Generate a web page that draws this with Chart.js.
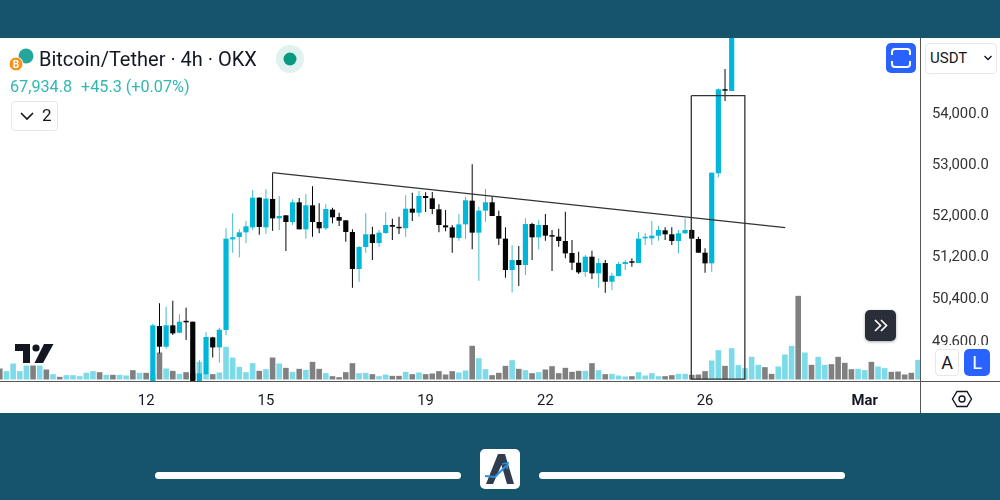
<!DOCTYPE html>
<html>
<head>
<meta charset="utf-8">
<title>Bitcoin/Tether</title>
<script src="https://cdn.jsdelivr.net/npm/chart.js@4/dist/chart.umd.min.js"></script>
<style>
    html, body { margin: 0; padding: 0; width: 1000px; height: 500px; overflow: hidden; background: #16546c; font-family: Roboto, sans-serif; color: #131722; }
    .abs { position: absolute; box-sizing: border-box; }
    #panel { left: 0; top: 38px; width: 1000px; height: 375px; background: #fff; }
    #chart { position: absolute; left: 0; top: 38px; }
    .lineH { left: 0; top: 381px; width: 1000px; height: 1px; background: #555; }
    .lineV { left: 920px; top: 38px; width: 1px; height: 375px; background: #555; }
    .box { border: 1px solid #e6e7ea; border-radius: 4px; background: #fff; }
    .blue { background: #2962ff; color: #fff; border-radius: 5px; }
    .pill { left: 155px; top: 472px; width: 306px; height: 7px; background: #fff; border-radius: 4px; }
</style>
</head>
<body>
<div class="abs" id="panel"></div>
<canvas id="chart" width="1000" height="375"></canvas>
<div class="abs lineH"></div>
<div class="abs lineV"></div>

<!-- header -->
<svg class="abs" style="left:7px;top:47px" width="28" height="26" viewBox="0 0 28 26">
    <circle cx="19" cy="9" r="7.5" fill="#26a69a"/>
    <circle cx="9" cy="17" r="7" fill="#f7931a" stroke="#fff" stroke-width="1"/>
    <text x="9" y="21" font-size="10" font-weight="bold" fill="#fff" text-anchor="middle">B</text>
</svg>
<div class="abs" style="left:39px;top:47px;font-size:20px;line-height:24px;white-space:nowrap">Bitcoin/Tether · 4h · OKX</div>
<svg class="abs" style="left:276px;top:45px" width="28" height="28"><circle cx="14" cy="14" r="14" fill="#e0f2ef"/><circle cx="14" cy="14" r="6.5" fill="#089981"/></svg>
<div class="abs" style="left:10px;top:77px;font-size:16.2px;line-height:19px;color:#2fb8b0;white-space:nowrap">67,934.8</div>
<div class="abs" style="left:81px;top:77px;font-size:16.2px;line-height:19px;color:#2fb8b0;white-space:nowrap">+45.3 (+0.07%)</div>
<div class="abs box" style="left:11px;top:101px;width:47px;height:30px"></div>
<svg class="abs" style="left:19px;top:110px" width="16" height="12"><path d="M2 3 L8 9 L14 3" fill="none" stroke="#131722" stroke-width="1.6"/></svg>
<div class="abs" style="left:42px;top:105px;font-size:17px;line-height:21px">2</div>

<!-- fullscreen button -->
<div class="abs blue" style="left:886px;top:43px;width:30px;height:30px"></div>
<svg class="abs" style="left:886px;top:43px" width="30" height="30"><path d="M6 12 V9 Q6 6 9 6 H21 Q24 6 24 9 V12 M6 18 V21 Q6 24 9 24 H21 Q24 24 24 21 V18" fill="none" stroke="#fff" stroke-width="2"/></svg>

<!-- price scale extras -->
<div class="abs box" style="left:925px;top:43px;width:72px;height:31px"></div>
<div class="abs" style="left:930px;top:49px;font-size:15px;line-height:18px">USDT</div>
<svg class="abs" style="left:983px;top:54px" width="10" height="8"><path d="M1.5 2 L5 5.5 L8.5 2" fill="none" stroke="#131722" stroke-width="1.4"/></svg>
<div class="abs" style="left:921px;top:345px;width:79px;height:36px;background:#fff"></div>
<div class="abs box" style="left:935px;top:349px;width:24px;height:27px;font-size:18px;line-height:26px;text-align:center">A</div>
<div class="abs blue" style="left:964px;top:349px;width:26px;height:27px;font-size:18px;line-height:27px;text-align:center">L</div>
<svg class="abs" style="left:951px;top:389px" width="22" height="20"><path d="M6 2.5 H16 L20.5 10 L16 17.5 H6 L1.5 10 Z" fill="none" stroke="#131722" stroke-width="1.4"/><circle cx="11" cy="10" r="3" fill="none" stroke="#131722" stroke-width="1.4"/></svg>

<!-- tradingview logo, scroll button -->
<svg class="abs" style="left:15px;top:344px" width="39" height="19" viewBox="0 0 39 19">
    <path d="M0 0 H15 V19 H8 V7 H0 Z" fill="#131722"/>
    <circle cx="21" cy="4" r="3.6" fill="#131722"/>
    <path d="M29 0 H38.5 L28 19 H19.5 Z" fill="#131722"/>
</svg>
<div class="abs" style="left:865px;top:310px;width:31px;height:31px;background:#2a2e39;border-radius:5px;box-shadow:0 1px 3px rgba(0,0,0,.35)"></div>
<svg class="abs" style="left:865px;top:310px" width="31" height="31"><path d="M10 10 L15.5 15.5 L10 21 M16 10 L21.5 15.5 L16 21" fill="none" stroke="#fff" stroke-width="1.7"/></svg>

<!-- footer band -->
<div class="abs pill"></div>
<div class="abs pill" style="left:539px"></div>
<div class="abs" style="left:480px;top:449px;width:40px;height:40px;background:#fff;border-radius:5px"></div>
<svg class="abs" style="left:480px;top:449px" width="40" height="40" viewBox="0 0 40 40">
    <path d="M6 35 L18 5 H25 L34 35 H27 L21.5 16 L13 35 Z" fill="#2f3d4f"/>
    <path d="M5 27 L15 28 L27 16" fill="none" stroke="#2a8fe0" stroke-width="2"/>
    <path d="M22 15 L28 14 L27 20" fill="none" stroke="#2a8fe0" stroke-width="1.6"/>
</svg>

<script>
// Bars are counted from the left edge, one bar every 4 hours
const firstCandle = 23;

const opens = [
    48600, 49869, 49486, 49882, 49745, 49956, 49950, 48600, 48983, 49659, 49473, 49795,
    51508, 51553, 51643, 51739, 52315, 51739, 52290, 51913, 51972, 51842, 52225, 51701,
    52166, 51842, 51721, 52082, 51939, 51875, 51650, 50941, 51361, 51605, 51438, 51630,
    51784, 51739, 51721, 52101, 52023, 52348, 52303, 52088, 51778, 51739, 51534, 51797,
    52257, 51637, 52062, 52225, 51959, 51522, 50922, 51112, 51017, 51803, 51547, 51784,
    51579, 51560, 51476, 51246, 51061, 50884, 51176, 50859, 51055, 50700, 50808, 51036,
    51080, 51055, 51528, 51528, 51579, 51682, 51605, 51476, 51624, 51688, 51515, 51252,
    51049, 52793, 54459, 54439
];
const highs = [
    49913, 50293, 50230, 50342, 50087, 50212, 49950, 49240, 49752, 49671, 49838, 51721,
    52010, 51701, 51862, 52465, 52322, 52478, 52792, 52348, 51972, 52283, 52309, 52387,
    52537, 52205, 52186, 52120, 52023, 51881, 51701, 51387, 52010, 51752, 51688, 52030,
    51907, 51946, 52361, 52413, 52452, 52420, 52426, 52186, 52075, 51784, 51997, 52335,
    52970, 52140, 52485, 52335, 52062, 51739, 51393, 51380, 51913, 51829, 51881, 51997,
    51688, 51714, 52043, 51495, 51271, 51208, 51290, 51144, 51112, 50871, 51080, 51112,
    51144, 51643, 51624, 51862, 51765, 51739, 51739, 51688, 51913, 51707, 51560, 51335,
    52806, 54494, 54887, 56300
];
const lows = [
    48600, 49363, 49455, 49702, 49733, 49609, 48600, 48600, 48965, 49288, 49191, 49696,
    51252, 51163, 51431, 51688, 51598, 51611, 51675, 51688, 51284, 51784, 51701, 51522,
    51560, 51624, 51688, 51816, 51765, 51463, 50587, 50700, 51252, 51112, 51367, 51611,
    51495, 51611, 51560, 51862, 51946, 52036, 51991, 51643, 51662, 51252, 51482, 51522,
    51316, 50719, 51849, 51959, 51399, 50776, 50499, 50619, 50827, 51112, 51316, 51482,
    50903, 51367, 51144, 50922, 50846, 50795, 50751, 50593, 50493, 50543, 50795, 50922,
    50985, 51055, 51399, 51399, 51482, 51495, 51399, 51239, 51611, 51522, 51252, 50871,
    50890, 52714, 54236, 54439
];
const closes = [
    49882, 49486, 49882, 49733, 49950, 49938, 48600, 48996, 49665, 49473, 49801, 51522,
    51547, 51643, 51759, 52315, 51746, 52296, 51913, 51959, 51842, 52225, 51701, 52166,
    51842, 51721, 52095, 51933, 51868, 51650, 50941, 51361, 51605, 51438, 51637, 51784,
    51752, 51721, 52101, 52023, 52348, 52309, 52095, 51784, 51739, 51541, 51797, 52264,
    51637, 52062, 52225, 51959, 51522, 50922, 51112, 51017, 51803, 51547, 51784, 51579,
    51560, 51476, 51239, 51061, 50878, 51176, 50859, 51055, 50700, 50814, 51036, 51074,
    51061, 51522, 51547, 51579, 51688, 51605, 51476, 51624, 51688, 51522, 51252, 51049,
    52806, 54473, 54445, 56200
];

const volumes = [
    33, 25, 48, 25, 42, 42, 42, 30, 16, 8,
    13, 13, 10, 20, 25, 22, 14, 14, 14, 12,
    28, 20, 20, 15, 81, 33, 26, 17, 22, 20,
    53, 18, 16, 21, 98, 66, 38, 22, 49, 26,
    31, 66, 48, 35, 23, 32, 29, 53, 32, 19,
    10, 7, 22, 49, 19, 20, 16, 10, 15, 11,
    11, 23, 16, 21, 16, 18, 25, 15, 25, 21,
    27, 101, 64, 31, 13, 20, 41, 58, 32, 28,
    19, 22, 30, 40, 19, 35, 23, 26, 26, 49,
    28, 16, 17, 12, 9, 10, 22, 12, 19, 10,
    10, 13, 17, 17, 14, 15, 25, 57, 88, 41,
    94, 43, 34, 68, 44, 37, 17, 39, 75, 101,
    251, 81, 44, 68, 44, 46, 68, 50, 31, 32,
    28, 53, 39, 34, 23, 24, 15, 20, 59
];
const volumeUp = [
    0, 1, 1, 1, 1, 0, 1, 0, 1, 0,
    1, 1, 1, 1, 1, 0, 1, 0, 1, 1,
    0, 1, 0, 1, 0, 1, 0, 1, 0, 0,
    1, 1, 0, 1, 1, 1, 1, 1, 1, 0,
    1, 0, 1, 0, 1, 0, 1, 0, 0, 1,
    0, 0, 0, 0, 1, 1, 0, 1, 1, 0,
    0, 1, 0, 1, 0, 0, 0, 0, 0, 1,
    1, 0, 1, 1, 0, 0, 0, 1, 0, 1,
    0, 1, 0, 0, 0, 0, 0, 0, 1, 0,
    1, 0, 1, 1, 1, 0, 1, 1, 1, 1,
    0, 0, 1, 1, 0, 0, 0, 1, 1, 0,
    1, 1, 1, 1, 1, 0, 0, 1, 1, 1,
    0, 1, 0, 1, 1, 0, 0, 0, 0, 1,
    1, 0, 1, 1, 0, 0, 0, 0, 1
];

const priceTicks = [54000, 53000, 52000, 51200, 50400, 49600];
const dayTickBars = [22, 40, 64, 82, 106, 130];
const dayTickLabels = ['12', '15', '19', '22', '26', 'Mar'];

// Hand drawn objects on the chart
const trendBars = [40.96, 118.05];
const trendPrices = [52805, 51732];
const boxBars = [103.93, 111.98, 111.98, 103.93, 103.93];
const boxPrices = [54344, 54344, 48893, 48893, 54344];

const upColor = '#00b7d9';
const upWick = '#45bcc8';
const downColor = '#050505';
const volUpColor = '#7ddae8';
const volDownColor = '#808080';
const drawColor = '#333333';

const bodyData = opens.map((open, i) => ({ x: firstCandle + i, y: [open, closes[i]] }));
const wickData = lows.map((low, i) => ({ x: firstCandle + i, y: [low, highs[i]] }));
const bodyColors = opens.map((open, i) => closes[i] >= open ? upColor : downColor);
const wickColors = opens.map((open, i) => closes[i] >= open ? upWick : downColor);
const volumeData = volumes.map((v, i) => ({ x: i, y: v }));
const volumeColors = volumeUp.map(up => up ? volUpColor : volDownColor);

const chartFont = { family: 'Roboto', size: 14.8 };

new Chart(document.getElementById('chart').getContext('2d'), {
    type: 'bar',
    data: {
        datasets: [
            {
                label: 'Volume', data: volumeData, yAxisID: 'yVol', order: 4,
                backgroundColor: volumeColors, barThickness: 5.6, grouped: false, inflateAmount: 0
            },
            {
                label: 'Wick', data: wickData, yAxisID: 'y', order: 3,
                backgroundColor: wickColors, barThickness: 1, grouped: false, inflateAmount: 0
            },
            {
                label: 'Body', data: bodyData, yAxisID: 'y', order: 2,
                backgroundColor: bodyColors, barThickness: 5.2, minBarLength: 1.5, grouped: false, inflateAmount: 0
            },
            {
                type: 'line', label: 'Trend', yAxisID: 'y', order: 1,
                data: trendBars.map((b, i) => ({ x: b, y: trendPrices[i] })),
                borderColor: drawColor, borderWidth: 1.3, pointRadius: 0
            },
            {
                type: 'line', label: 'Box', yAxisID: 'y', order: 1,
                data: boxBars.map((b, i) => ({ x: b, y: boxPrices[i] })),
                borderColor: drawColor, borderWidth: 1.3, pointRadius: 0
            }
        ]
    },
    options: {
        responsive: false,
        animation: false,
        layout: { padding: 0, autoPadding: false },
        plugins: { legend: { display: false }, tooltip: { enabled: false } },
        scales: {
            x: {
                type: 'linear',
                offset: false,
                bounds: 'data',
                min: 0.03,
                max: 138.305,
                grid: { display: false, drawTicks: false },
                border: { display: false },
                afterBuildTicks: scale => { scale.ticks = dayTickBars.map(v => ({ value: v })); },
                afterFit: scale => { scale.height = 32; scale.paddingLeft = 0; scale.paddingRight = 0; },
                ticks: {
                    autoSkip: false,
                    maxRotation: 0,
                    padding: 11,
                    color: '#131722',
                    font: ctx => ctx.index === 5 ? { family: 'Roboto', size: 14.8, weight: 'bold' } : chartFont,
                    callback: (value, i) => dayTickLabels[i]
                }
            },
            y: {
                type: 'logarithmic',
                position: 'right',
                bounds: 'data',
                min: 48857,
                max: 55526,
                grid: { display: false, drawTicks: false },
                border: { display: false },
                afterBuildTicks: scale => { scale.ticks = priceTicks.map(v => ({ value: v })); },
                // the tick padding would otherwise push the plot down from the top edge
                afterFit: scale => { scale.width = 80; scale.paddingTop = 0; scale.paddingBottom = 0; },
                ticks: {
                    autoSkip: false,
                    padding: 12,
                    labelOffset: 2,
                    color: '#333',
                    font: chartFont,
                    callback: value => value.toLocaleString('en-US', { minimumFractionDigits: 1 })
                }
            },
            yVol: {
                display: false,
                min: -4.5,
                max: 1024.5
            }
        }
    }
});
</script>
</body>
</html>
